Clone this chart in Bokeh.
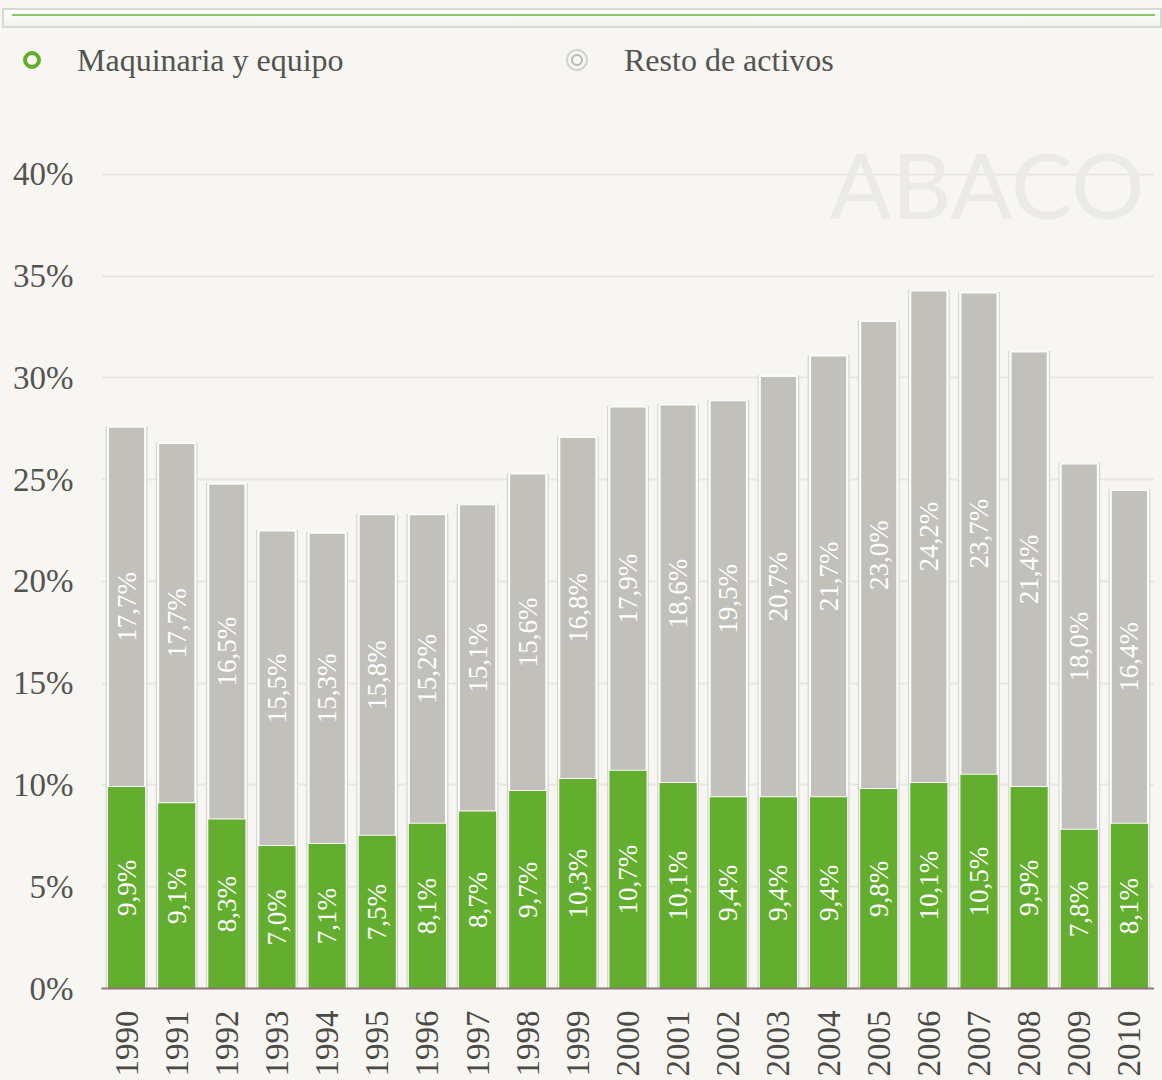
import math
from bokeh.plotting import figure
from bokeh.models import (ColumnDataSource, FactorRange, Range1d, FixedTicker,
                          CustomJSTickFormatter, Label, Div)
from bokeh.layouts import column
from bokeh.core.properties import value
from bokeh.embed import file_html
from bokeh.resources import INLINE

years = [str(y) for y in range(1990, 2011)]
maquinaria = [9.9, 9.1, 8.3, 7.0, 7.1, 7.5, 8.1, 8.7, 9.7, 10.3, 10.7, 10.1,
              9.4, 9.4, 9.4, 9.8, 10.1, 10.5, 9.9, 7.8, 8.1]
resto = [17.7, 17.7, 16.5, 15.5, 15.3, 15.8, 15.2, 15.1, 15.6, 16.8, 17.9, 18.6,
         19.5, 20.7, 21.7, 23.0, 24.2, 23.7, 21.4, 18.0, 16.4]
y_ticks = [0, 5, 10, 15, 20, 25, 30, 35, 40]
series_names = ["Maquinaria y equipo", "Resto de activos"]

GREEN = "#63ae2e"
GRAY = "#c2c0bb"
BG = "#f7f6f2"
FONT = "Liberation Serif"

def fmt(v):
    return ("%.1f" % v).replace(".", ",") + "%"

total = [a + b for a, b in zip(maquinaria, resto)]
src = ColumnDataSource(dict(
    year=years, m=maquinaria, r=resto, total=total,
    m_mid=[a / 2 for a in maquinaria],
    r_mid=[a + b / 2 for a, b in zip(maquinaria, resto)],
    m_lbl=[fmt(v) for v in maquinaria],
    r_lbl=[fmt(v) for v in resto],
    zero=[0] * len(years),
))

W = 1154

# header: decorative top box + legend (HTML)
txt_style = ("position:absolute;top:35px;height:40px;line-height:40px;"
             "font-family:'Liberation Serif',serif;font-size:32px;color:#54544f;white-space:nowrap;")
ring = "position:absolute;box-sizing:border-box;border-radius:50%;"
header_html = (
    '<div style="position:relative;width:1154px;height:86px;">'
    '<div style="position:absolute;left:-3px;top:3px;width:1160px;height:20px;box-sizing:border-box;'
    'border:2px solid #d7d7d4;background:linear-gradient(#ffffff,#f1f1ef);">'
    '<div style="position:absolute;left:8px;top:4px;width:1143px;height:2px;background:#8cc66a;"></div></div>'
    '<div style="' + ring + 'left:18px;top:46px;width:18px;height:18px;border:4px solid ' + GREEN + ';"></div>'
    '<div style="' + txt_style + 'left:72px;">' + series_names[0] + '</div>'
    '<div style="' + ring + 'left:561px;top:44px;width:22px;height:22px;border:2px solid #d4d3cf;">'
    '<div style="' + ring + 'left:3px;top:3px;width:12px;height:12px;border:2px solid #b9b8b3;"></div></div>'
    '<div style="' + txt_style + 'left:619px;">' + series_names[1] + '</div>'
    '</div>'
)
header = Div(text=header_html, width=W, height=86, styles={"background": BG})

# main chart
p = figure(width=W, height=986, x_range=FactorRange(*years, range_padding=0),
           y_range=Range1d(0, 43.83), output_backend="svg", toolbar_location=None,
           min_border_left=101, min_border_right=0, min_border_top=0, min_border_bottom=94)
p.background_fill_color = BG
p.border_fill_color = BG
p.outline_line_color = None

wm = Label(x=728, y=750, x_units="screen", y_units="screen", text="ABACO",
           text_font="Lato", text_font_size="92px", text_color="#ebeae6",
           level="underlay")
p.add_layout(wm)

p.vbar(x="year", top="total", bottom="zero", width=0.81, source=src,
       fill_color="#fbfbf9", line_color="#d4d3cf", line_width=1.2)
p.vbar(x="year", top="total", bottom="m", width=0.74, source=src,
       fill_color=GRAY, line_color="#fbfbf9", line_width=2)
p.vbar(x="year", top="m", bottom="zero", width=0.74, source=src,
       fill_color=GREEN, line_color=None)

p.text(x="year", y="m_mid", text="m_lbl", source=src, angle=math.pi / 2,
       text_align="center", text_baseline="middle", text_color="white",
       text_font=value(FONT), text_font_size="27px")
p.text(x="year", y="r_mid", text="r_lbl", source=src, angle=math.pi / 2,
       text_align="center", text_baseline="middle", text_color="white",
       text_font=value(FONT), text_font_size="27px")

p.yaxis.ticker = FixedTicker(ticks=y_ticks)
p.yaxis.formatter = CustomJSTickFormatter(code="return tick + '%';")
p.yaxis.axis_line_color = None
p.yaxis.major_tick_line_color = None
p.yaxis.minor_tick_line_color = None
p.yaxis.major_label_text_font = FONT
p.yaxis.major_label_text_font_size = "33px"
p.yaxis.major_label_text_color = "#54544f"
p.yaxis.major_label_standoff = 22

p.xaxis.axis_line_color = "#8f7478"
p.xaxis.axis_line_width = 2
p.xaxis.major_tick_line_color = None
p.xaxis.minor_tick_line_color = None
p.xaxis.major_label_orientation = math.pi / 2
p.xaxis.major_label_text_font = FONT
p.xaxis.major_label_text_font_size = "33px"
p.xaxis.major_label_text_color = "#4a4a46"
p.xaxis.major_label_standoff = 16

p.xgrid.grid_line_color = None
p.ygrid.grid_line_color = "#e8e6e1"
p.ygrid.grid_line_width = 2
p.ygrid.ticker = FixedTicker(ticks=y_ticks)

layout = column(header, p, spacing=0, styles={"background": BG})
open("out.html", "w").write(file_html(layout, INLINE))
